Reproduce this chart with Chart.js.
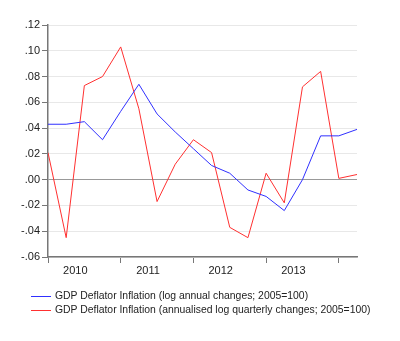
<!DOCTYPE html>
<html>
<head>
<meta charset="utf-8">
<script src="https://cdn.jsdelivr.net/npm/chart.js@4"></script>
<style>
  body { margin: 0; background: #fff; }
  #wrap { position: relative; width: 400px; height: 341px; }
  .legend { position: absolute; left: 31px; top: 289px; font: 10.4px "Liberation Sans", Arial, sans-serif; color: #222; }
  .legend div { height: 14px; line-height: 14px; white-space: nowrap; }
  .legend span { display: inline-block; width: 20px; height: 1px; vertical-align: middle; margin-right: 4px; }
</style>
</head>
<body>
<div id="wrap">
  <canvas id="c" width="400" height="341"></canvas>
  <div class="legend" id="legend"></div>
</div>
<script>
// quarterly observations 2010Q1 .. 2014Q2
const quarters = ['2010Q1','2010Q2','2010Q3','2010Q4','2011Q1','2011Q2','2011Q3','2011Q4',
  '2012Q1','2012Q2','2012Q3','2012Q4','2013Q1','2013Q2','2013Q3','2013Q4','2014Q1','2014Q2'];
const annualInfl = [0.043, 0.043, 0.045, 0.031, 0.053, 0.074, 0.051, 0.037,
  0.024, 0.011, 0.005, -0.008, -0.013, -0.024, 0.000, 0.034, 0.034, 0.039];
const quarterlyInfl = [0.021, -0.045, 0.073, 0.080, 0.103, 0.055, -0.017, 0.012,
  0.031, 0.021, -0.037, -0.045, 0.005, -0.018, 0.072, 0.084, 0.001, 0.004];
const years = ['2010', '2011', '2012', '2013'];
const yTicks = [-0.06, -0.04, -0.02, 0, 0.02, 0.04, 0.06, 0.08, 0.10, 0.12];
const seriesNames = [
  'GDP Deflator Inflation (log annual changes; 2005=100)',
  'GDP Deflator Inflation (annualised log quarterly changes; 2005=100)'
];
const BLUE = '#3030ff', RED = '#ff3030';

const pts = arr => arr.map((v, i) => ({ x: i, y: v }));
// year tick marks at each Q1, year labels half way into the year
const yearTicks = [];
years.forEach((y, i) => { yearTicks.push({ value: i * 4 }); yearTicks.push({ value: i * 4 + 1.5, label: y }); });
yearTicks.push({ value: 16 });

const fmtY = v => {
  const s = Math.abs(v).toFixed(2).replace(/^0/, '');
  return (v < -1e-9 ? '-' : '') + s;
};

new Chart(document.getElementById('c'), {
  type: 'line',
  data: {
    datasets: [
      { label: seriesNames[0], data: pts(annualInfl), borderColor: BLUE, borderWidth: 1, pointRadius: 0, tension: 0 },
      { label: seriesNames[1], data: pts(quarterlyInfl), borderColor: RED, borderWidth: 1, pointRadius: 0, tension: 0 },
    ]
  },
  options: {
    responsive: false,
    animation: false,
    layout: { padding: { left: 0, right: 43, top: 25, bottom: 0 } },
    plugins: { legend: { display: false }, tooltip: { enabled: false } },
    scales: {
      x: {
        type: 'linear', min: 0, max: quarters.length - 1,
        afterBuildTicks: s => { s.ticks = yearTicks.map(t => ({ value: t.value })); },
        afterFit: s => { s.height = 84; },
        ticks: {
          autoSkip: false, maxRotation: 0, padding: 1,
          color: '#222', font: { family: 'Liberation Sans', size: 11 },
          callback: v => { const t = yearTicks.find(t => t.value === v); return t && t.label ? t.label : ''; }
        },
        grid: {
          drawOnChartArea: false, tickLength: 6,
          tickColor: ctx => (ctx.tick && ctx.tick.value % 4 === 0) ? '#777' : 'rgba(0,0,0,0)'
        },
        border: { color: '#777', width: 1.5 }
      },
      y: {
        min: -0.06, max: 0.12,
        afterBuildTicks: s => { s.ticks = yTicks.map(v => ({ value: v })); },
        afterFit: s => { s.width = 48; },
        ticks: { color: '#222', padding: 2, font: { family: 'Liberation Sans', size: 11 }, callback: v => fmtY(v) },
        grid: {
          tickLength: 6,
          color: ctx => (ctx.tick && Math.abs(ctx.tick.value) < 1e-9) ? '#999' : '#e8e8e8',
          tickColor: '#777'
        },
        border: { color: '#777', width: 1.5 }
      }
    }
  }
});

document.getElementById('legend').innerHTML = seriesNames.map((n, i) =>
  `<div><span style="background:${i ? RED : BLUE}"></span>${n}</div>`).join('');
</script>
</body>
</html>
